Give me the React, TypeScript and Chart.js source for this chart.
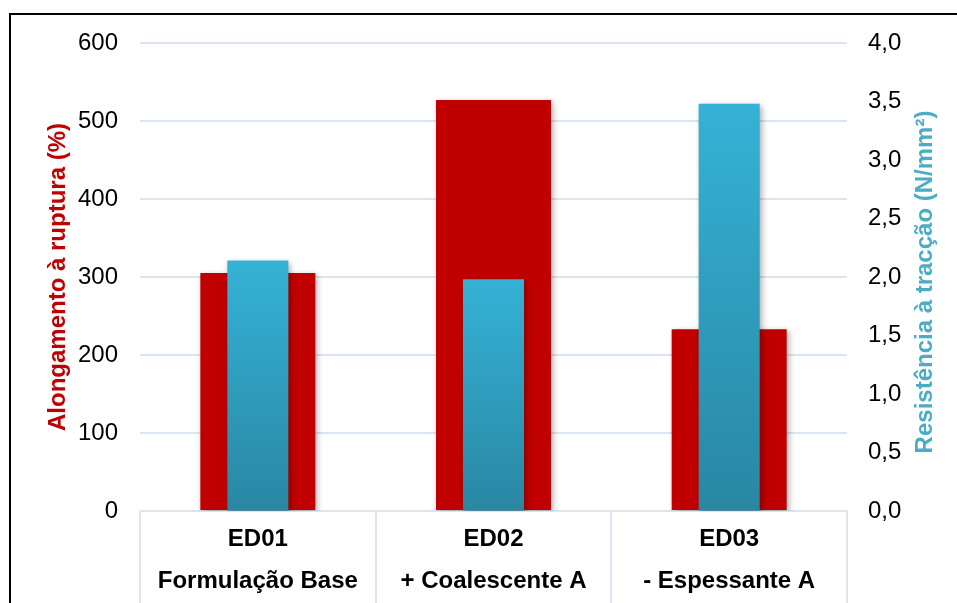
import React, { useEffect, useRef } from "react";
import { Chart, registerables } from "chart.js";

Chart.register(...registerables);

// Formulations and measured properties
const categories: string[][] = [
  ["ED01", "Formulação Base"],
  ["ED02", "+ Coalescente A"],
  ["ED03", "- Espessante A"],
];
const elongation: number[] = [305, 527, 233]; // Alongamento à ruptura (%)
const tensileStrength: number[] = [2.14, 1.98, 3.48]; // Resistência à tracção (N/mm²)

const leftTicks: number[] = [0, 100, 200, 300, 400, 500, 600];
const rightTicks: number[] = [0, 0.5, 1, 1.5, 2, 2.5, 3, 3.5, 4];

const leftTitle = "Alongamento à ruptura (%)";
const rightTitle = "Resistência à tracção (N/mm²)";

const FONT = "'Liberation Sans', Arial, sans-serif";
const GRID = "#dbe5f1";
const RED = "#c00000";
const BLUE_TITLE = "#4bacc6";

// Soft drop shadow behind the bars
const barShadow = {
  id: "barShadow",
  beforeDatasetsDraw(chart: Chart) {
    const ctx = chart.ctx;
    ctx.save();
    ctx.shadowColor = "rgba(0,0,0,0.32)";
    ctx.shadowBlur = 6;
    ctx.shadowOffsetX = 2;
    ctx.shadowOffsetY = 2;
  },
  afterDatasetsDraw(chart: Chart) {
    chart.ctx.restore();
  },
};

// Right-hand axis title, written bottom-to-top like the left one
const rightAxisTitle = {
  id: "rightAxisTitle",
  afterDraw(chart: Chart) {
    const scale: any = chart.scales.y1;
    const area = chart.chartArea;
    if (!scale || !area) return;
    const ctx = chart.ctx;
    ctx.save();
    ctx.translate(scale.right - 32, (area.top + area.bottom) / 2 + 5);
    ctx.rotate(-Math.PI / 2);
    ctx.font = `bold 24px ${FONT}`;
    ctx.fillStyle = BLUE_TITLE;
    ctx.textAlign = "center";
    ctx.textBaseline = "middle";
    ctx.fillText(rightTitle, 0, 0);
    ctx.restore();
  },
};

export default function App() {
  const canvasRef = useRef<HTMLCanvasElement | null>(null);

  useEffect(() => {
    if (!canvasRef.current) return;

    // Vertical gradient per bar, light at the top and darker at the base
    const blueFill = (context: any) => {
      const chart = context.chart;
      const scale = chart.scales?.y1;
      const fallback = "#31a3c4";
      if (!scale || !chart.chartArea || context.type !== "data") return fallback;
      const v = context.raw as number;
      const top = scale.getPixelForValue(v);
      const bottom = scale.getPixelForValue(0);
      if (!Number.isFinite(top) || !Number.isFinite(bottom) || top === bottom) return fallback;
      const g = chart.ctx.createLinearGradient(0, top, 0, bottom);
      g.addColorStop(0, "#35b2d6");
      g.addColorStop(1, "#2987a3");
      return g;
    };

    const chart = new Chart(canvasRef.current, {
      type: "bar",
      data: {
        labels: categories,
        datasets: [
          {
            label: leftTitle,
            data: elongation,
            yAxisID: "y",
            backgroundColor: RED,
            grouped: false,
            order: 2,
            categoryPercentage: 1,
            barPercentage: 0.488,
          },
          {
            label: rightTitle,
            data: tensileStrength,
            yAxisID: "y1",
            backgroundColor: blueFill,
            grouped: false,
            order: 1,
            categoryPercentage: 1,
            barPercentage: 0.259,
          },
        ],
      },
      options: {
        animation: false,
        responsive: true,
        maintainAspectRatio: false,
        layout: { padding: { top: 43, left: 0, right: 0, bottom: 0 } },
        plugins: {
          legend: { display: false },
          tooltip: { enabled: false },
        },
        scales: {
          x: {
            type: "category",
            offset: true,
            border: { display: false },
            grid: {
              offset: true,
              drawOnChartArea: false,
              drawTicks: true,
              tickLength: 92,
              color: GRID,
              lineWidth: 2,
            },
            ticks: {
              padding: -85,
              color: "#000",
              maxRotation: 0,
              autoSkip: false,
              font: { family: FONT, size: 24, weight: "bold", lineHeight: 1.75 },
            },
            afterFit(scale: any) {
              scale.height = 92;
            },
          },
          y: {
            position: "left",
            min: 0,
            max: 600,
            afterBuildTicks(scale: any) {
              scale.ticks = leftTicks.map((v) => ({ value: v }));
            },
            border: { display: false },
            grid: { color: GRID, lineWidth: 2, drawTicks: false },
            ticks: {
              padding: 22,
              color: "#000",
              font: { family: FONT, size: 24 },
            },
            title: {
              display: true,
              text: leftTitle,
              color: RED,
              padding: { top: 44, bottom: 0 },
              font: { family: FONT, size: 24, weight: "bold" },
            },
            afterFit(scale: any) {
              scale.width = 140;
            },
          },
          y1: {
            position: "right",
            min: 0,
            max: 4,
            afterBuildTicks(scale: any) {
              scale.ticks = rightTicks.map((v) => ({ value: v }));
            },
            border: { display: false },
            grid: { drawOnChartArea: false, drawTicks: false },
            ticks: {
              padding: 21,
              color: "#000",
              font: { family: FONT, size: 24 },
              callback: (v: any) => Number(v).toFixed(1).replace(".", ","),
            },
            title: { display: false },
            afterFit(scale: any) {
              scale.width = 110;
            },
          },
        },
      },
      plugins: [barShadow, rightAxisTitle],
    });

    return () => chart.destroy();
  }, []);

  return (
    <div
      style={{
        position: "absolute",
        left: 0,
        top: 0,
        width: 957,
        height: 603,
        overflow: "hidden",
        background: "#fff",
      }}
    >
      <div
        style={{
          position: "absolute",
          left: 9,
          top: 13,
          width: 1000,
          height: 700,
          border: "2px solid #000",
          boxSizing: "border-box",
        }}
      />
      <div style={{ position: "absolute", left: 0, top: 0, width: 957, height: 603 }}>
        <canvas ref={canvasRef} />
      </div>
    </div>
  );
}
